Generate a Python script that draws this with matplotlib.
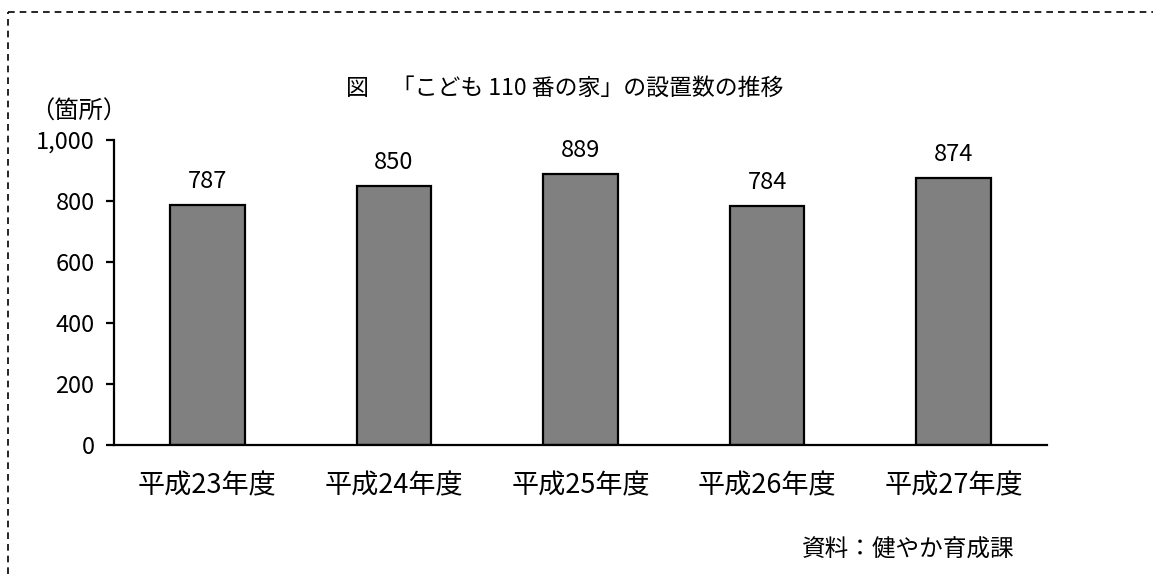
import matplotlib
matplotlib.use("Agg")
import matplotlib.pyplot as plt
from matplotlib.lines import Line2D

plt.rcParams['font.family'] = ['Noto Sans CJK JP', 'DejaVu Sans']

years = ["平成23年度", "平成24年度", "平成25年度", "平成26年度", "平成27年度"]
counts = [787, 850, 889, 784, 874]
yticks = [0, 200, 400, 600, 800, 1000]

fig = plt.figure(figsize=(11.53, 5.74), dpi=100)
ax = fig.add_axes([114 / 1153, 1 - 445 / 574, 933 / 1153, 305 / 574])

x = range(len(years))
bars = ax.bar(x, counts, width=0.40, color="#808080", edgecolor="black", linewidth=1.6)
for b, v in zip(bars, counts):
    ax.text(b.get_x() + b.get_width() / 2, v + 40, str(v), ha="center", va="bottom", fontsize=17)

ax.set_xlim(-0.5, len(years) - 0.5)
ax.set_ylim(0, 1000)
ax.set_yticks(yticks)
ax.set_yticklabels([f"{t:,}" for t in yticks], fontsize=17)
ax.set_xticks(list(x))
ax.set_xticklabels(years, fontsize=19.5)
ax.tick_params(axis="x", length=0, pad=20)
ax.tick_params(axis="y", length=6, width=1.6, pad=8)
for s in ["top", "right"]:
    ax.spines[s].set_visible(False)
for s in ["left", "bottom"]:
    ax.spines[s].set_linewidth(1.6)

fig.text(565 / 1153, 1 - 88 / 574, "図　「こども 110 番の家」の設置数の推移", ha="center", va="center", fontsize=16.5)
fig.text(30 / 1153, 1 - 112 / 574, "（箇所）", ha="left", va="center", fontsize=17.5)
fig.text(1015 / 1153, 1 - 550 / 574, "資料：健やか育成課", ha="right", va="center", fontsize=17)

# dashed frame around the figure (top and left edges visible)
fig.add_artist(Line2D([8 / 1153, 1.0], [1 - 12 / 574] * 2, transform=fig.transFigure,
                      color="black", linestyle=(0, (4, 3)), linewidth=1.2))
fig.add_artist(Line2D([8 / 1153] * 2, [0.0, 1 - 12 / 574], transform=fig.transFigure,
                      color="black", linestyle=(0, (4, 3)), linewidth=1.2))

fig.savefig("out.png", dpi=100)
